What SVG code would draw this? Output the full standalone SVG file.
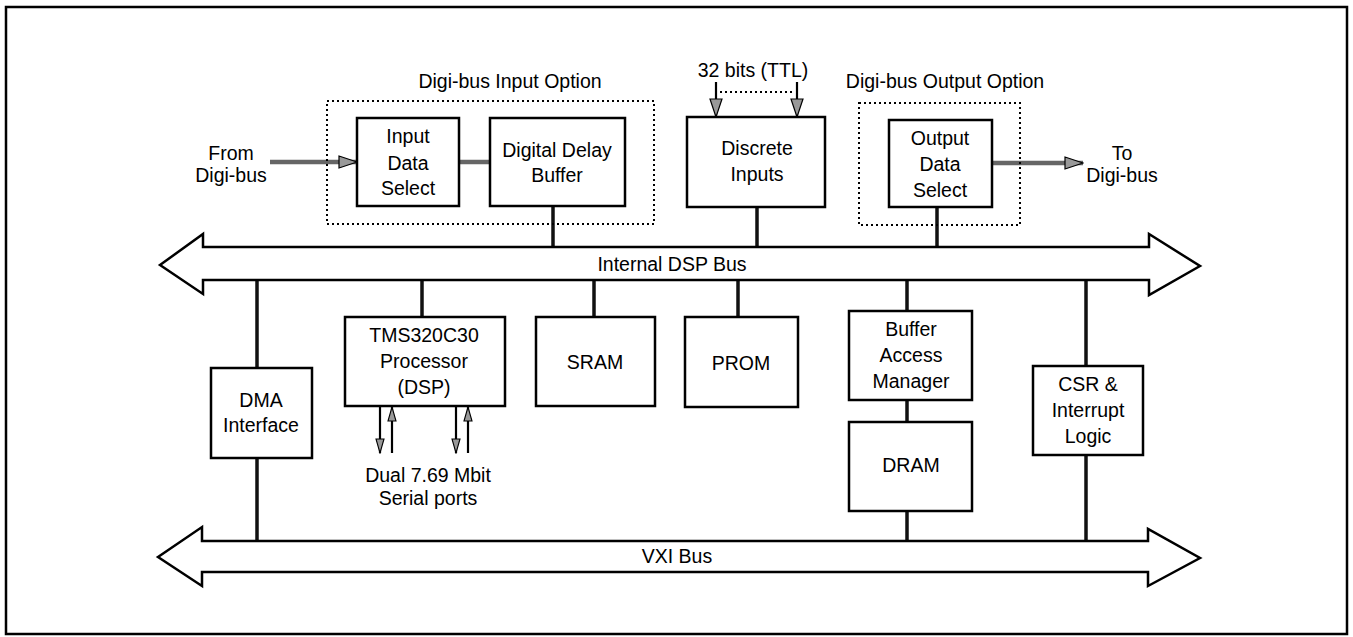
<svg xmlns="http://www.w3.org/2000/svg" width="1353" height="637" viewBox="0 0 1353 637">
<style>
text{font-family:"Liberation Sans",Arial,sans-serif;font-size:19.5px;fill:#000;text-anchor:middle}
.box{fill:#fff;stroke:#000;stroke-width:2.5}
.opt{fill:none;stroke:#000;stroke-width:2;stroke-dasharray:2 3}
.bus{fill:#fff;stroke:#000;stroke-width:2.5;stroke-linejoin:miter}
.wire{stroke:#111;stroke-width:3.5;fill:none}
.gwire{stroke:#666;stroke-width:4.5;fill:none}
.thin{stroke:#000;stroke-width:2.2;fill:none}
</style>
<defs>
<marker id="ah" markerUnits="userSpaceOnUse" markerWidth="20" markerHeight="14" refX="19" refY="7" orient="auto">
<path d="M1,1 L19,7 L1,13 z" fill="#999" stroke="#000" stroke-width="1.2"/>
</marker>
<marker id="ahs" markerUnits="userSpaceOnUse" markerWidth="16" markerHeight="10" refX="15" refY="5" orient="auto">
<path d="M1,1 L15,5 L1,9 z" fill="#999" stroke="#000" stroke-width="1.1"/>
</marker>
</defs>
<rect x="6" y="7" width="1341" height="627" fill="#fff" stroke="#000" stroke-width="2.5"/>

<g id="connectors">
<line class="gwire" x1="270" y1="162" x2="357" y2="162" marker-end="url(#ah)"/>
<line class="gwire" x1="459" y1="162" x2="490" y2="162"/>
<line class="gwire" x1="992" y1="163" x2="1083" y2="163" marker-end="url(#ah)"/>
<line class="thin" x1="716" y1="82" x2="716" y2="117" marker-end="url(#ah)"/>
<line class="thin" x1="797" y1="82" x2="797" y2="117" marker-end="url(#ah)"/>
<line x1="720" y1="92" x2="793" y2="92" stroke="#000" stroke-width="2" stroke-dasharray="2 3"/>
<line class="wire" x1="553" y1="206" x2="553" y2="247"/>
<line class="wire" x1="757" y1="207" x2="757" y2="247"/>
<line class="wire" x1="937" y1="207" x2="937" y2="247"/>
<line class="wire" x1="257" y1="280" x2="257" y2="368"/>
<line class="wire" x1="257" y1="458" x2="257" y2="541"/>
<line class="wire" x1="422" y1="280" x2="422" y2="317"/>
<line class="wire" x1="594" y1="280" x2="594" y2="317"/>
<line class="wire" x1="738" y1="280" x2="738" y2="317"/>
<line class="wire" x1="907" y1="280" x2="907" y2="311"/>
<line class="wire" x1="907" y1="400" x2="907" y2="422"/>
<line class="wire" x1="907" y1="511" x2="907" y2="541"/>
<line class="wire" x1="1086" y1="280" x2="1086" y2="366"/>
<line class="wire" x1="1086" y1="455" x2="1086" y2="541"/>
<line class="thin" x1="380" y1="407" x2="380" y2="453" marker-end="url(#ahs)"/>
<line class="thin" x1="392" y1="453" x2="392" y2="407" marker-end="url(#ahs)"/>
<line class="thin" x1="456" y1="407" x2="456" y2="453" marker-end="url(#ahs)"/>
<line class="thin" x1="468" y1="453" x2="468" y2="407" marker-end="url(#ahs)"/>
</g>

<g id="internal-dsp-bus">
<polygon class="bus" points="160,265 203,234 203,247 1149,247 1149,234 1200,266 1149,295 1149,280 203,280 203,294"/>
<text x="672" y="271">Internal DSP Bus</text>
</g>
<g id="vxi-bus">
<polygon class="bus" points="158,557 202,527 202,541 1148,541 1148,529 1200,558 1148,586 1148,572 202,572 202,586"/>
<text x="677" y="563">VXI Bus</text>
</g>

<g id="from-digibus">
<text x="231" y="160">From</text>
<text x="231" y="182">Digi-bus</text>
</g>
<g id="to-digibus">
<text x="1122" y="160">To</text>
<text x="1122" y="182">Digi-bus</text>
</g>

<g id="input-option">
<rect class="opt" x="327" y="101" width="327" height="123"/>
<text x="510" y="88">Digi-bus Input Option</text>
</g>
<g id="input-data-select">
<rect class="box" x="357" y="118" width="102" height="88"/>
<text x="408" y="143">Input</text>
<text x="408" y="170">Data</text>
<text x="408" y="195">Select</text>
</g>
<g id="digital-delay-buffer">
<rect class="box" x="490" y="118" width="135" height="88"/>
<text x="557" y="157">Digital Delay</text>
<text x="557" y="182">Buffer</text>
</g>

<g id="discrete-inputs">
<text x="753" y="77">32 bits (TTL)</text>
<rect class="box" x="687" y="117" width="138" height="90"/>
<text x="757" y="155">Discrete</text>
<text x="757" y="181">Inputs</text>
</g>

<g id="output-option">
<rect class="opt" x="859" y="103" width="161" height="122"/>
<text x="945" y="88">Digi-bus Output Option</text>
</g>
<g id="output-data-select">
<rect class="box" x="889" y="120" width="103" height="87"/>
<text x="940" y="145">Output</text>
<text x="940" y="171">Data</text>
<text x="940" y="197">Select</text>
</g>

<g id="dma-interface">
<rect class="box" x="211" y="368" width="101" height="90"/>
<text x="261" y="407">DMA</text>
<text x="261" y="432">Interface</text>
</g>
<g id="tms320c30">
<rect class="box" x="345" y="317" width="160" height="89"/>
<text x="424" y="342">TMS320C30</text>
<text x="424" y="368">Processor</text>
<text x="424" y="394">(DSP)</text>
</g>
<g id="serial-ports">
<text x="428" y="482">Dual 7.69 Mbit</text>
<text x="428" y="505">Serial ports</text>
</g>
<g id="sram">
<rect class="box" x="536" y="317" width="119" height="89"/>
<text x="595" y="369">SRAM</text>
</g>
<g id="prom">
<rect class="box" x="685" y="317" width="113" height="90"/>
<text x="741" y="370">PROM</text>
</g>
<g id="buffer-access-manager">
<rect class="box" x="849" y="311" width="123" height="89"/>
<text x="911" y="336">Buffer</text>
<text x="911" y="362">Access</text>
<text x="911" y="388">Manager</text>
</g>
<g id="dram">
<rect class="box" x="849" y="422" width="123" height="89"/>
<text x="911" y="472">DRAM</text>
</g>
<g id="csr-interrupt">
<rect class="box" x="1033" y="366" width="110" height="89"/>
<text x="1088" y="391">CSR &amp;</text>
<text x="1088" y="417">Interrupt</text>
<text x="1088" y="443">Logic</text>
</g>
</svg>
